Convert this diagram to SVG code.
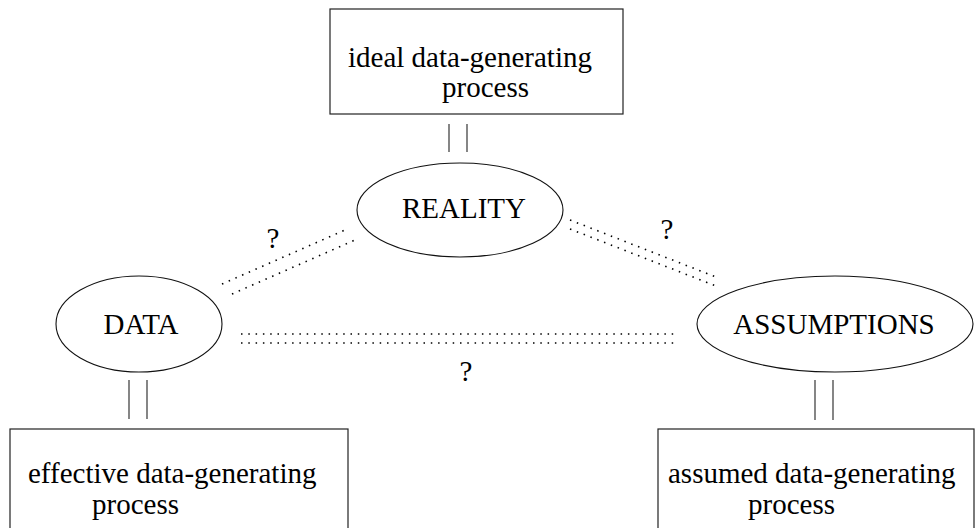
<svg xmlns="http://www.w3.org/2000/svg" width="975" height="528" viewBox="0 0 975 528">
<style>
.box{fill:#fff;stroke:#222;stroke-width:1.2}
.ell{fill:#fff;stroke:#111;stroke-width:1.1}
.t{font-family:"Liberation Serif","Times New Roman",serif;font-size:29px;fill:#000}
.dot{stroke:#000;stroke-width:1.6;stroke-dasharray:1.5 5.8;fill:none}
.bar{stroke:#222;stroke-width:1.1}
</style>
<rect width="975" height="528" fill="#fff"/>
<g id="connectors">
<line class="bar" x1="449" y1="124" x2="449" y2="152"/>
<line class="bar" x1="467" y1="124" x2="467" y2="152"/>
<line class="bar" x1="129" y1="380" x2="129" y2="419"/>
<line class="bar" x1="147" y1="380" x2="147" y2="419"/>
<line class="bar" x1="815" y1="380" x2="815" y2="420"/>
<line class="bar" x1="833" y1="380" x2="833" y2="420"/>
<line class="dot" x1="222" y1="284" x2="345" y2="230"/>
<line class="dot" x1="232" y1="294" x2="355" y2="240"/>
<line class="dot" x1="570" y1="220" x2="716" y2="277"/>
<line class="dot" x1="570" y1="229" x2="716" y2="286"/>
<line class="dot" x1="241" y1="334" x2="676" y2="334"/>
<line class="dot" x1="241" y1="343" x2="676" y2="343"/>
<text class="t" x="273" y="248" text-anchor="middle">?</text>
<text class="t" x="667" y="239" text-anchor="middle">?</text>
<text class="t" x="466" y="381" text-anchor="middle">?</text>
</g>
<g id="ideal">
<rect class="box" x="330" y="9" width="293" height="105"/>
<text class="t" x="348" y="67">ideal data-generating</text>
<text class="t" x="442" y="97">process</text>
</g>
<g id="reality">
<ellipse class="ell" cx="460" cy="210" rx="103" ry="47"/>
<text class="t" x="464" y="218" text-anchor="middle">REALITY</text>
</g>
<g id="data">
<ellipse class="ell" cx="139" cy="324" rx="83" ry="48"/>
<text class="t" x="141" y="334" text-anchor="middle">DATA</text>
</g>
<g id="assumptions">
<ellipse class="ell" cx="835" cy="324" rx="138" ry="48"/>
<text class="t" x="834" y="334" text-anchor="middle">ASSUMPTIONS</text>
</g>
<g id="effective">
<rect class="box" x="10" y="429" width="338" height="110"/>
<text class="t" x="28" y="483">effective data-generating</text>
<text class="t" x="92" y="514">process</text>
</g>
<g id="assumed">
<rect class="box" x="658" y="429" width="316" height="110"/>
<text class="t" x="668" y="483">assumed data-generating</text>
<text class="t" x="748" y="514">process</text>
</g>
</svg>
